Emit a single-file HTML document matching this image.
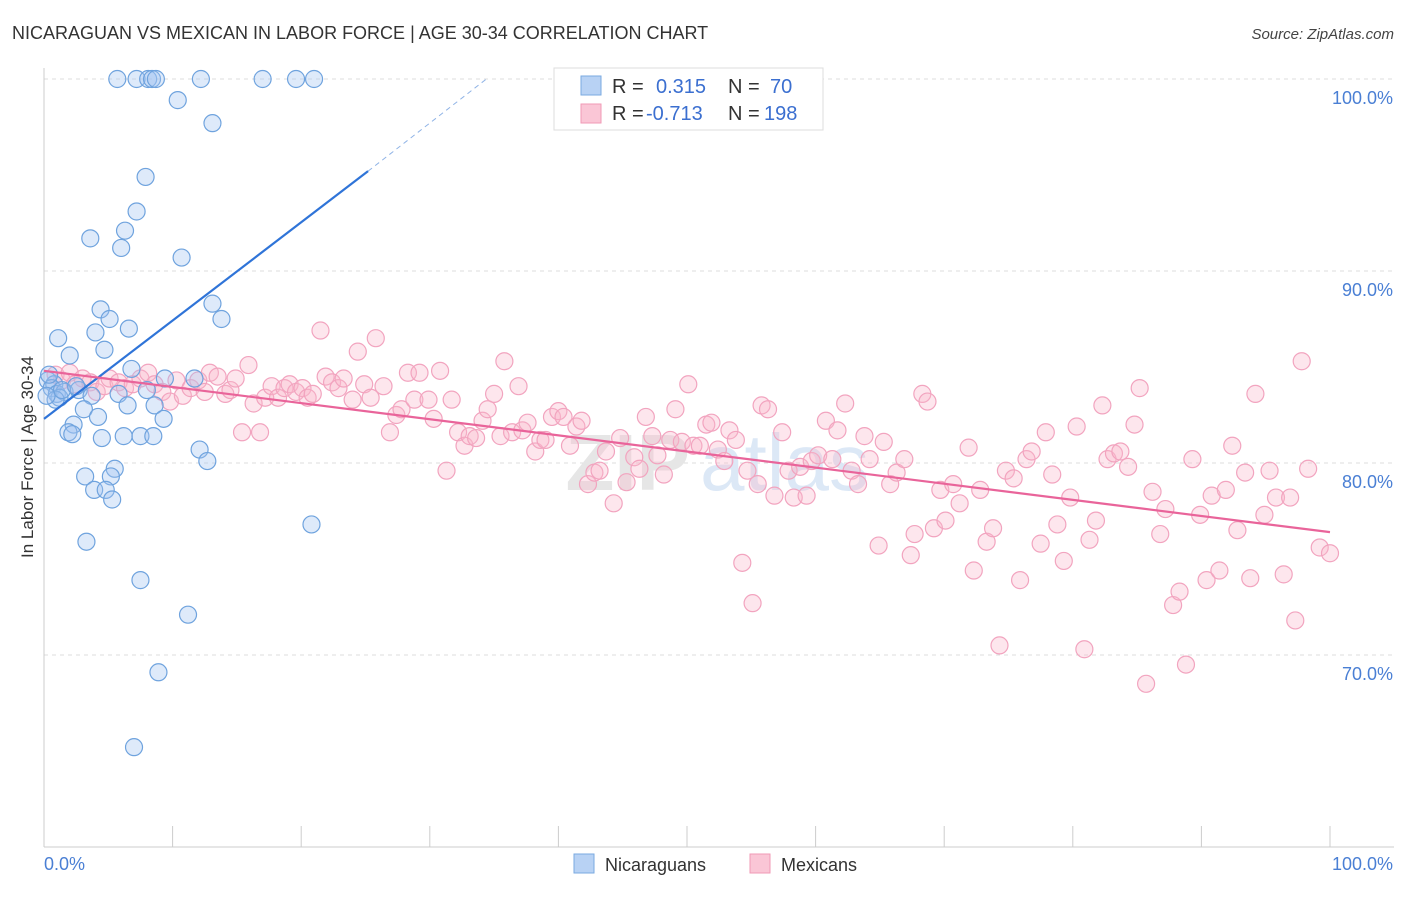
<!DOCTYPE html>
<html><head><meta charset="utf-8">
<style>
body{margin:0;background:#fff;font-family:"Liberation Sans",sans-serif;}
svg text{font-family:"Liberation Sans",sans-serif;}
</style></head>
<body>
<svg id="chart" width="1406" height="892" xmlns="http://www.w3.org/2000/svg">
<text x="12" y="39" font-size="18" fill="#333">NICARAGUAN VS MEXICAN IN LABOR FORCE | AGE 30-34 CORRELATION CHART</text>
<text x="1394" y="39" font-size="15" fill="#444" font-style="italic" text-anchor="end">Source: ZipAtlas.com</text>
<g id="grid"></g>
<text x="690" y="490" font-size="80" font-weight="bold" fill="#e6e6e6" text-anchor="end">ZIP</text>
<text x="700" y="490" font-size="80" fill="#dce8f6">atlas</text>
<g id="axes"></g>
<g id="pink"></g>
<g id="blue"></g>
<g id="lines"></g>
<text transform="translate(33,457) rotate(-90)" font-size="17" fill="#333" text-anchor="middle">In Labor Force | Age 30-34</text>
<g>
<rect x="554" y="68" width="269" height="62" fill="#fff" stroke="#ddd"/>
<rect x="581" y="76" width="20" height="19" fill="#b8d2f4" stroke="#7aaae0"/>
<rect x="581" y="104" width="20" height="19" fill="#fac6d6" stroke="#f09ab6"/>
<text x="612" y="93" font-size="20" fill="#333">R =</text>
<text x="656" y="93" font-size="20" fill="#3b6fd0">0.315</text>
<text x="728" y="93" font-size="20" fill="#333">N =</text>
<text x="770" y="93" font-size="20" fill="#3b6fd0">70</text>
<text x="612" y="120" font-size="20" fill="#333">R =</text>
<text x="646" y="120" font-size="20" fill="#3b6fd0">-0.713</text>
<text x="728" y="120" font-size="20" fill="#333">N =</text>
<text x="764" y="120" font-size="20" fill="#3b6fd0">198</text>
</g>
<g>
<rect x="574" y="854" width="20" height="19" fill="#b8d2f4" stroke="#7aaae0"/>
<text x="605" y="871" font-size="18" fill="#333">Nicaraguans</text>
<rect x="750" y="854" width="20" height="19" fill="#fac6d6" stroke="#f09ab6"/>
<text x="781" y="871" font-size="18" fill="#333">Mexicans</text>
</g>
</svg>
<script>
const blueX=[5.7,7.2,8.1,8.4,8.7,12.2,17.0,19.6,21.0,10.4,13.1,7.9,7.2,6.3,3.6,6.0,10.7,4.4,13.1,5.1,13.8,4.0,6.6,1.1,4.7,2.0,6.8,11.7,9.4,0.3,0.8,0.6,1.0,1.6,1.2,2.7,3.7,5.8,8.0,6.5,8.6,3.1,4.2,9.3,2.3,1.9,2.2,4.5,6.2,7.5,8.5,12.1,12.7,5.5,3.2,5.2,3.9,4.8,5.3,20.8,3.3,7.5,11.2,8.9,7.0,0.4,0.9,1.4,2.5,0.2];
const blueY=[100,100,100,100,100,100,100,100,100,98.9,97.7,94.9,93.1,92.1,91.7,91.2,90.7,88.0,88.3,87.5,87.5,86.8,87.0,86.5,85.9,85.6,84.9,84.4,84.4,84.3,84.1,83.9,83.6,83.7,83.4,83.8,83.5,83.6,83.8,83.0,83.0,82.8,82.4,82.3,82.0,81.6,81.5,81.3,81.4,81.4,81.4,80.7,80.1,79.7,79.3,79.3,78.6,78.6,78.1,76.8,75.9,73.9,72.1,69.1,65.2,84.6,83.3,83.8,84.0,83.5];
const pinkX=[0.9,1.4,2.0,2.4,3.0,3.6,4.1,4.7,5.1,5.8,6.3,6.9,7.5,8.1,8.6,9.2,9.8,10.3,10.8,11.4,12.0,12.5,12.9,13.5,14.1,14.5,14.9,15.4,15.9,16.3,16.8,17.2,17.7,18.2,18.7,19.1,19.6,20.1,20.5,20.9,21.5,21.9,22.4,22.9,23.3,24.0,24.4,24.9,25.4,25.8,26.4,26.9,27.4,27.8,28.3,28.8,29.2,29.9,30.3,30.8,31.3,31.7,32.2,32.7,33.1,33.6,34.1,34.5,35.0,35.5,35.8,36.4,36.9,37.2,37.6,38.2,38.6,39.0,39.5,40.0,40.4,40.9,41.4,41.8,42.3,42.8,43.2,43.7,44.3,44.8,45.3,45.9,46.3,46.8,47.3,47.7,48.2,48.7,49.1,49.6,50.1,50.5,51.0,51.5,51.9,52.4,52.9,53.3,53.8,54.3,54.7,55.1,55.5,55.8,56.3,56.8,57.4,57.9,58.3,58.8,59.3,59.7,60.2,60.8,61.3,61.7,62.3,62.8,63.3,63.8,64.2,64.9,65.3,65.8,66.3,66.9,67.4,67.7,68.3,68.7,69.2,69.7,70.1,70.7,71.2,71.9,72.3,72.8,73.3,73.8,74.3,74.8,75.4,75.9,76.4,76.8,77.5,77.9,78.4,78.8,79.3,79.8,80.3,80.9,81.3,81.8,82.3,82.7,83.2,83.7,84.3,84.8,85.2,85.7,86.2,86.8,87.2,87.8,88.3,88.8,89.3,89.9,90.4,90.8,91.4,91.9,92.4,92.8,93.4,93.8,94.2,94.9,95.3,95.8,96.4,96.9,97.3,97.8,98.3,99.2,100.0];
const pinkY=[84.6,84.3,84.7,84.1,84.4,84.2,83.7,84.0,84.4,84.2,83.9,84.1,84.4,84.7,84.1,83.7,83.2,84.3,83.5,83.9,84.3,83.7,84.7,84.5,83.6,83.8,84.4,81.6,85.1,83.1,81.6,83.4,84.0,83.4,83.9,84.1,83.7,83.9,83.4,83.6,86.9,84.5,84.2,83.9,84.4,83.3,85.8,84.1,83.4,86.5,84.0,81.6,82.5,82.8,84.7,83.3,84.7,83.3,82.3,84.8,79.6,83.3,81.6,80.9,81.4,81.3,82.2,82.8,83.6,81.4,85.3,81.6,84.0,81.7,82.1,80.6,81.2,81.2,82.4,82.7,82.4,80.9,81.9,82.2,78.9,79.5,79.6,80.6,77.9,81.3,79.0,80.3,79.7,82.4,81.4,80.4,79.4,81.2,82.8,81.1,84.1,80.9,80.9,82.0,82.1,80.7,80.1,81.7,81.2,74.8,79.6,72.7,78.9,83.0,82.8,78.3,81.6,79.6,78.2,79.8,78.3,80.1,80.4,82.2,80.2,81.7,83.1,79.6,78.9,81.4,80.2,75.7,81.1,78.9,79.5,80.2,75.2,76.3,83.6,83.2,76.6,78.6,77.0,78.9,77.9,80.8,74.4,78.6,75.9,76.6,70.5,79.6,79.2,73.9,80.2,80.6,75.8,81.6,79.4,76.8,74.9,78.2,81.9,70.3,76.0,77.0,83.0,80.2,80.5,80.6,79.8,82.0,83.9,68.5,78.5,76.3,77.6,72.6,73.3,69.5,80.2,77.3,73.9,78.3,74.4,78.6,80.9,76.5,79.5,74.0,83.6,77.3,79.6,78.2,74.2,78.2,71.8,85.3,79.7,75.6,75.3];
const yTicks=[100,90,80,70];
const yTickLabels=["100.0%","90.0%","80.0%","70.0%"];
const xTicks=[0,10,20,30,40,50,60,70,80,90,100];
const blueTrend=[[0,82.3],[25.2,95.2],[34.4,100]];
const pinkTrend=[[0,84.8],[100,76.4]];

const NS="http://www.w3.org/2000/svg";
const X=v=>44+v*12.86, Y=v=>847-(v-60)*19.2;
function mk(parent,tag,attrs){const e=document.createElementNS(NS,tag);for(const k in attrs)e.setAttribute(k,attrs[k]);document.getElementById(parent).appendChild(e);return e;}
yTicks.forEach((t,i)=>{
  const l=mk('grid','line',{x1:44,x2:1394,y1:Y(t),y2:Y(t),stroke:'#ddd','stroke-dasharray':'4,4'});
  
  
  const tx=mk('axes','text',{x:1393,y:Y(t)+25,'font-size':18,fill:'#4a7fd4','text-anchor':'end'});
  tx.textContent=yTickLabels[i];
  
  
});
const ax=mk('axes','line',{x1:44,x2:44,y1:68,y2:847,stroke:'#ccc'});


const bx=mk('axes','line',{x1:44,x2:1394,y1:847,y2:847,stroke:'#ccc'});


xTicks.forEach(t=>{
  const l=mk('axes','line',{x1:X(t),x2:X(t),y1:826,y2:847,stroke:'#ccc'});
  
  
});
const x0=mk('axes','text',{x:44,y:870,'font-size':18,fill:'#4a7fd4'});x0.textContent='0.0%';


const x1=mk('axes','text',{x:1393,y:870,'font-size':18,fill:'#4a7fd4','text-anchor':'end'});x1.textContent='100.0%';


pinkX.forEach((v,i)=>{
  const c=mk('pink','circle',{cx:X(v),cy:Y(pinkY[i]),r:8.5,fill:'rgba(248,182,204,0.35)',stroke:'#f2a4bf','stroke-width':1.2});
  
  
});
blueX.forEach((v,i)=>{
  const c=mk('blue','circle',{cx:X(v),cy:Y(blueY[i]),r:8.5,fill:'rgba(160,196,240,0.35)',stroke:'#6fa3de','stroke-width':1.2});
  
  
});
const b1=mk('lines','line',{x1:X(blueTrend[0][0]),y1:Y(blueTrend[0][1]),x2:X(blueTrend[1][0]),y2:Y(blueTrend[1][1]),stroke:'#2f74d8','stroke-width':2.2});


const b2=mk('lines','line',{x1:X(blueTrend[1][0]),y1:Y(blueTrend[1][1]),x2:X(blueTrend[2][0]),y2:Y(blueTrend[2][1]),stroke:'#8fb3e6','stroke-width':1,'stroke-dasharray':'5,4'});


const p1=mk('lines','line',{x1:X(pinkTrend[0][0]),y1:Y(pinkTrend[0][1]),x2:X(pinkTrend[1][0]),y2:Y(pinkTrend[1][1]),stroke:'#e9649a','stroke-width':2.2});


</script>
</body></html>
